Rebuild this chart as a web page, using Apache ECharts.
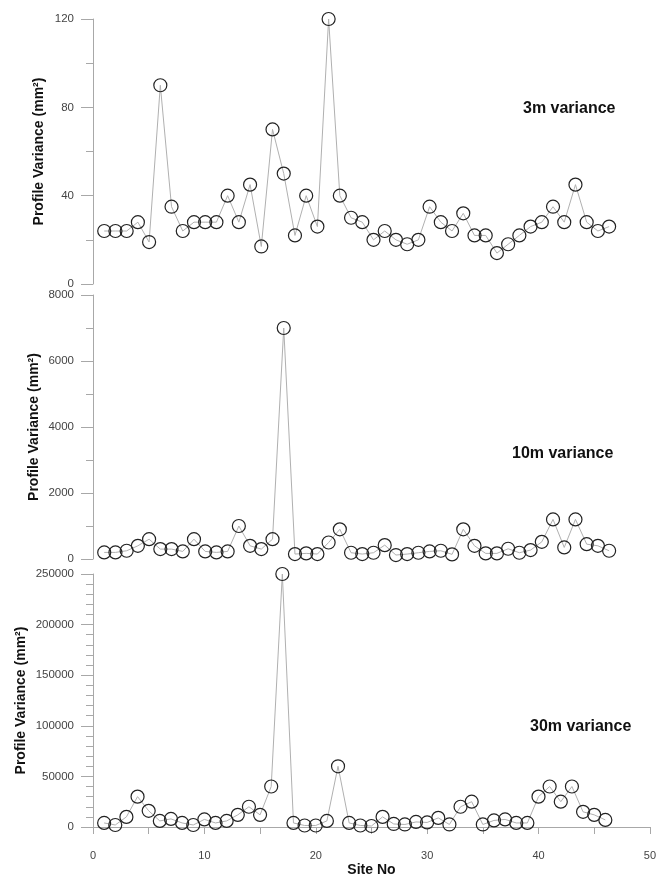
<!DOCTYPE html>
<html><head><meta charset="utf-8">
<script src="https://cdn.jsdelivr.net/npm/echarts@6/dist/echarts.min.js"></script>
<style>html,body{margin:0;padding:0;background:#fff}#c{width:659px;height:878px}</style>
</head><body><div id="c"></div>
<script>
const sites = Array.from({length:46},(_,i)=>i+1);
const var3m = [24,24,24,28,19,90,35,24,28,28,28,40,28,45,17,70,50,22,40,26,120,40,30,28,20,24,20,18,20,35,28,24,32,22,22,14,18,22,26,28,35,28,45,28,24,26];
const var10m = [200,200,250,400,600,300,300,230,600,230,200,230,1000,400,300,600,7000,150,170,150,500,900,190,150,190,420,120,150,190,230,250,140,900,400,170,170,310,190,270,520,1200,350,1200,450,400,250];
const var30m = [4000,2000,10000,30000,16000,6000,8000,4000,2000,7500,4000,6000,12000,20000,12000,40000,250000,4000,1500,1500,6000,60000,4000,1500,1000,10000,3000,2500,5000,4500,9000,2500,20000,25000,2500,6500,7500,4000,4000,30000,40000,25000,40000,15000,12000,7000];
const panelLabels = ['3m variance','10m variance','30m variance'];
const yMax = [120, 8000, 250000];
const yInterval = [40, 2000, 50000];
const yMinorSplit = [2, 2, 5];
const yName = 'Profile Variance (mm²)';
const xName = 'Site No';

const grids = [
  {left:93, right:5, top:19, height:265},
  {left:93, right:5, top:295, height:264},
  {left:93, right:5, top:574, height:256}
];
const nameGaps = [47, 52, 65];
const axisCol = '#a8a8a8';
const font = 'Liberation Sans, Arial, sans-serif';
const xAxes = grids.map((g,i)=>({
  type:'value', gridIndex:i, min:0, max:50, interval:10,
  show: i===2,
  axisLine:{show:true, onZero:false, lineStyle:{color:axisCol, width:1}},
  axisTick:{show:true, length:7, lineStyle:{color:axisCol}},
  minorTick:{show:true, splitNumber:2, length:7, lineStyle:{color:axisCol}},
  splitLine:{show:false},
  axisLabel:{color:'#444', fontSize:11, fontFamily:font, margin:23, formatter:v=>String(v)},
  name: i===2 ? xName : '', nameLocation:'middle', nameGap:36, nameMoveOverlap:false,
  nameTextStyle:{fontWeight:'bold', fontSize:14, color:'#111', fontFamily:font}
}));
const yAxes = grids.map((g,i)=>({
  type:'value', gridIndex:i, min:0, max:yMax[i], interval:yInterval[i],
  axisLine:{show:true, lineStyle:{color:axisCol, width:1}},
  axisTick:{show:true, length:12, lineStyle:{color:axisCol}},
  minorTick:{show:true, splitNumber:yMinorSplit[i], length:7, lineStyle:{color:axisCol}},
  splitLine:{show:false},
  axisLabel:{color:'#444', fontSize:11.5, fontFamily:font, margin:19, formatter:v=>String(v)},
  name: yName, nameLocation:'middle', nameGap:nameGaps[i], nameMoveOverlap:false,
  nameTextStyle:{fontWeight:'bold', fontSize:14, color:'#111', fontFamily:font}
}));
const datasets = [var3m, var10m, var30m];
const series = datasets.map((arr,i)=>({
  type:'line', xAxisIndex:i, yAxisIndex:i,
  data: sites.map((s,k)=>[s, arr[k]]),
  symbol:'circle', symbolSize:13,
  lineStyle:{color:'#b0b0b0', width:1},
  itemStyle:{color:'rgba(255,255,255,0)', borderColor:'#222', borderWidth:1.2},
  animation:false, z:2
}));
const titles = [
  {text:panelLabels[0], left:523, top:101},
  {text:panelLabels[1], left:512, top:446},
  {text:panelLabels[2], left:530, top:719}
].map(t=>({...t, padding:0, textStyle:{fontSize:16, fontWeight:'bold', color:'#111', fontFamily:font}}));
const chart = echarts.init(document.getElementById('c'));
chart.setOption({
  animation:false, backgroundColor:'#fff',
  title: titles, grid: grids, xAxis: xAxes, yAxis: yAxes, series: series
});
</script></body></html>
